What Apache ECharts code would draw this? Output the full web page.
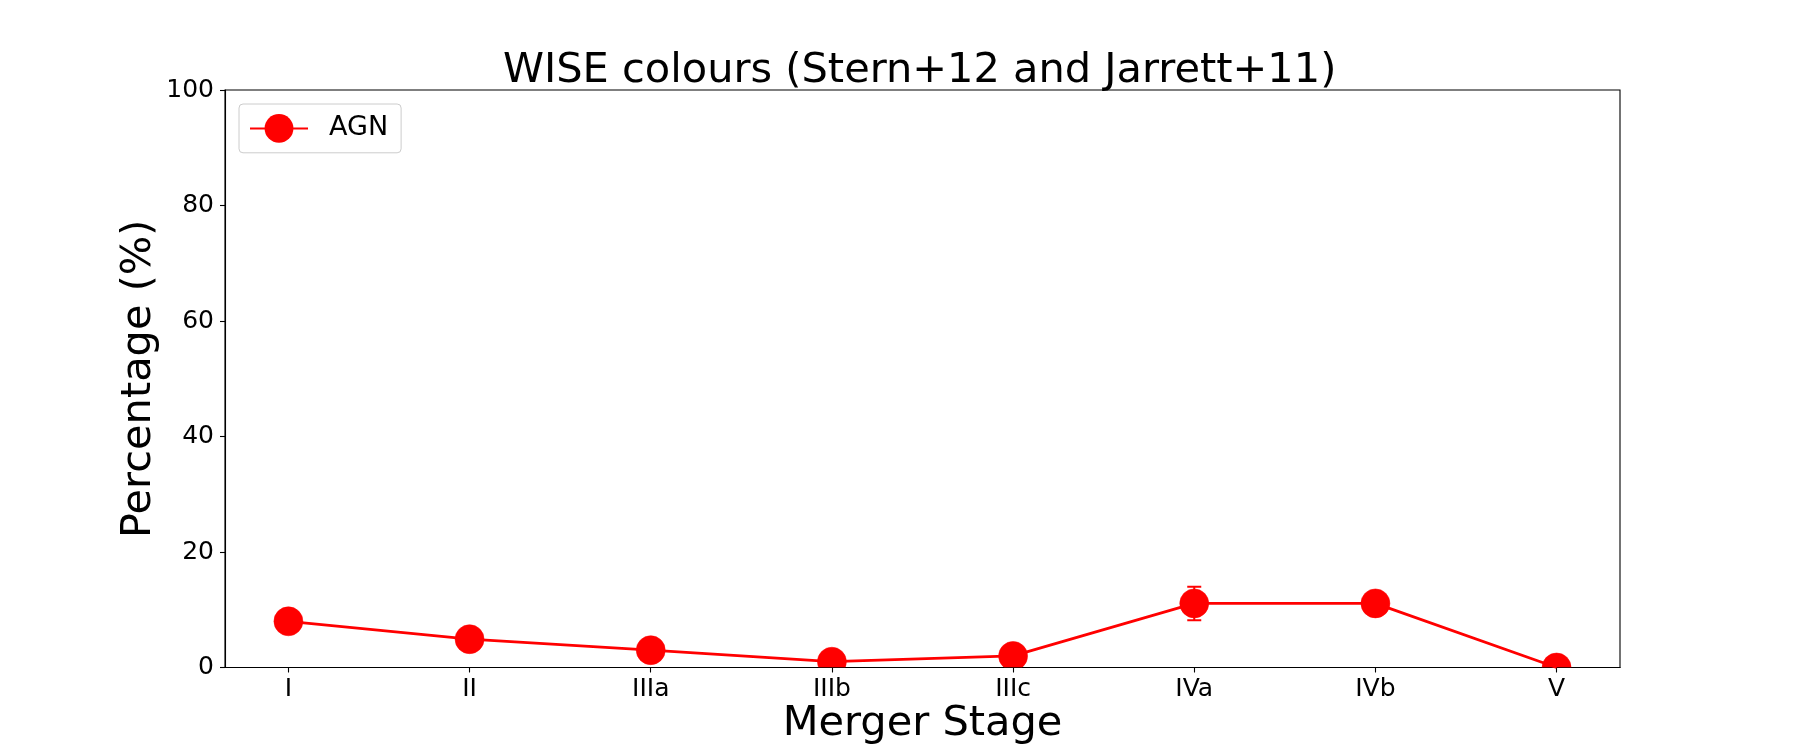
<!DOCTYPE html>
<html>
<head>
<meta charset="utf-8">
<script src="https://cdn.jsdelivr.net/npm/echarts@6/dist/echarts.min.js"></script>
<style>
html,body{margin:0;padding:0;background:#fff;}
#chart{width:1800px;height:750px;}
</style>
</head>
<body>
<div id="chart"></div>
<script>
// ---- data ----
const categories = ['I', 'II', 'IIIa', 'IIIb', 'IIIc', 'IVa', 'IVb', 'V'];
const agnValues = [8.0, 4.9, 3.0, 1.0, 2.0, 11.1, 11.1, 0.0];
const agnErrors = [0, 0, 0, 0, 0, 2.9, 0, 0];
const yTicks = [0, 20, 40, 60, 80, 100];
const titleText = 'WISE colours (Stern+12 and Jarrett+11)';
const xLabel = 'Merger Stage';
const yLabel = 'Percentage (%)';
const seriesName = 'AGN';

const FONT = 'DejaVu Sans';
const RED = '#ff0000';

const catIdx = categories.map((c, i) => i);
const lineData = categories.map((c, i) => [i, agnValues[i]]);
const markerData = categories.map((c, i) => [i, agnValues[i], agnErrors[i]]);

const chart = echarts.init(document.getElementById('chart'), null, {renderer: 'canvas'});

chart.setOption({
  animation: false,
  backgroundColor: '#ffffff',
  textStyle: {fontFamily: FONT},
  title: {
    text: titleText,
    left: 503,
    top: 50,
    padding: 0,
    textStyle: {fontFamily: FONT, fontSize: 41.5, fontWeight: 'normal', color: '#000', lineHeight: 41.5}
  },
  legend: {
    data: [seriesName],
    left: 239,
    top: 104,
    orient: 'vertical',
    padding: [10, 13, 10, 10],
    itemWidth: 58,
    itemHeight: 36,
    borderColor: '#cccccc',
    borderWidth: 1,
    borderRadius: 4,
    backgroundColor: 'rgba(255,255,255,0.8)',
    textStyle: {fontFamily: FONT, fontSize: 27, color: '#000', padding: [0, 0, 0, 16]},
    selectedMode: false
  },
  grid: {
    left: 225, right: 180, top: 90, bottom: 82.5,
    outerBoundsMode: 'none',
    containLabel: false,
    show: true, borderColor: '#000', borderWidth: 1.1, backgroundColor: 'transparent'
  },
  xAxis: {
    type: 'value',
    min: -0.35,
    max: 7.35,
    name: xLabel,
    nameLocation: 'middle',
    nameGap: 36,
    nameMoveOverlap: false,
    nameTextStyle: {fontFamily: FONT, fontSize: 41.5, color: '#000', lineHeight: 41.5},
    axisLine: {show: true, onZero: false, lineStyle: {color: '#000', width: 1.1}},
    axisTick: {show: true, inside: false, length: 5, lineStyle: {color: '#000', width: 1.1}, customValues: catIdx},
    axisLabel: {
      show: true, margin: 9, fontFamily: FONT, fontSize: 25, color: '#000',
      customValues: catIdx,
      formatter: v => categories[Math.round(v)] ?? ''
    },
    splitLine: {show: false}
  },
  yAxis: {
    type: 'value',
    min: yTicks[0],
    max: yTicks[yTicks.length - 1],
    interval: yTicks[1] - yTicks[0],
    name: yLabel,
    nameLocation: 'middle',
    nameRotate: 90,
    nameGap: 65,
    nameMoveOverlap: false,
    nameTextStyle: {fontFamily: FONT, fontSize: 41.5, color: '#000', lineHeight: 41.5},
    axisLine: {show: true, onZero: false, lineStyle: {color: '#000', width: 1.1}},
    axisTick: {show: true, inside: false, length: 5, lineStyle: {color: '#000', width: 1.1}},
    axisLabel: {show: true, margin: 11, fontFamily: FONT, fontSize: 25, color: '#000'},
    splitLine: {show: false}
  },
  series: [
    {
      name: seriesName,
      type: 'line',
      data: lineData,
      color: RED,
      symbol: 'circle',
      symbolSize: 29,
      showSymbol: false,
      clip: true,
      silent: true,
      lineStyle: {color: RED, width: 2.8},
      itemStyle: {color: RED},
      emphasis: {disabled: true},
      z: 2
    },
    {
      name: seriesName + ' markers',
      type: 'custom',
      data: markerData,
      clip: true,
      silent: true,
      z: 3,
      renderItem: function (params, api) {
        const x = api.value(0), y = api.value(1), e = api.value(2);
        const c = api.coord([x, y]);
        const cs = params.coordSys;
        const children = [];
        if (e > 0) {
          const top = api.coord([x, y + e]);
          const bot = api.coord([x, y - e]);
          const cw = 7;
          const st = {stroke: RED, lineWidth: 2};
          children.push({type: 'line', shape: {x1: top[0], y1: top[1], x2: bot[0], y2: bot[1]}, style: st});
          children.push({type: 'line', shape: {x1: top[0] - cw, y1: top[1], x2: top[0] + cw, y2: top[1]}, style: st});
          children.push({type: 'line', shape: {x1: bot[0] - cw, y1: bot[1], x2: bot[0] + cw, y2: bot[1]}, style: st});
        }
        children.push({type: 'circle', shape: {cx: c[0], cy: c[1], r: 14.5}, style: {fill: RED, stroke: RED, lineWidth: 0.5}});
        return {
          type: 'group',
          clipPath: {type: 'rect', shape: {x: cs.x, y: cs.y, width: cs.width, height: cs.height}},
          children: children
        };
      }
    }
  ]
});
</script>
</body>
</html>
